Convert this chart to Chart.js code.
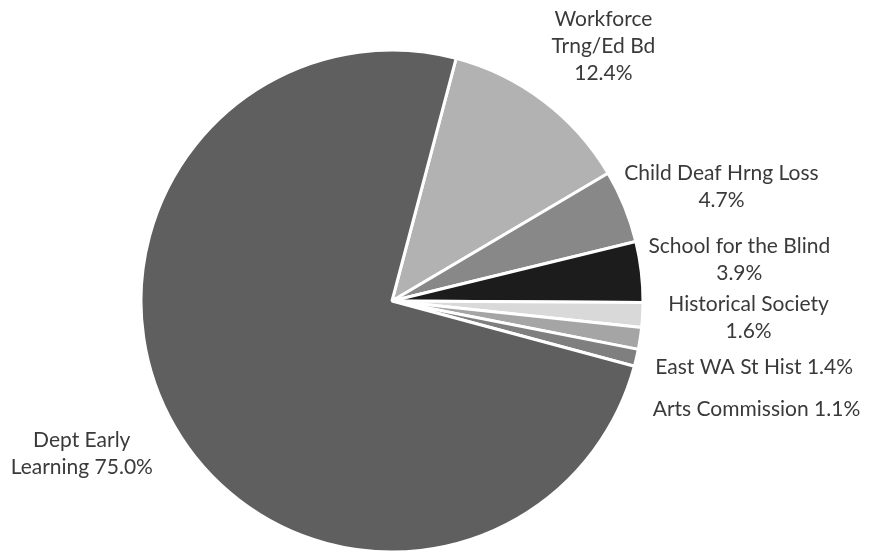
<!DOCTYPE html>
<html>
<head>
<meta charset="utf-8">
<script src="https://cdn.jsdelivr.net/npm/chart.js@4"></script>
<style>
  html, body { margin: 0; padding: 0; background: #ffffff; }
  #wrap { width: 878px; height: 551px; }
</style>
</head>
<body>
<div id="wrap"><canvas id="pie" width="878" height="551"></canvas></div>
<script>
// Agency shares (percent of total)
const agencies = [
  'Workforce Trng/Ed Bd',
  'Child Deaf Hrng Loss',
  'School for the Blind',
  'Historical Society',
  'East WA St Hist',
  'Arts Commission',
  'Dept Early Learning'
];
const shares = [12.4, 4.7, 3.9, 1.6, 1.4, 1.1, 75.0];

// How each label's text is broken into lines
const labelLines = [
  ['Workforce', 'Trng/Ed Bd', '12.4%'],
  ['Child Deaf Hrng Loss', '4.7%'],
  ['School for the Blind', '3.9%'],
  ['Historical Society', '1.6%'],
  ['East WA St Hist 1.4%'],
  ['Arts Commission 1.1%'],
  ['Dept Early', 'Learning 75.0%']
];

const sliceColors = ['#b2b2b2', '#888888', '#1c1c1c', '#d9d9d9', '#a5a5a5', '#7f7f7f', '#5f5f5f'];

// Label placement: offset from the point where each slice's mid-angle meets the rim
const labelNudge = [
  { dx: 60, dy: -55 },
  { dx: 97, dy: -20 },
  { dx: 98, dy: -12 },
  { dx: 106, dy: 3 },
  { dx: 114, dy: 29 },
  { dx: 120, dy: 51 },
  { dx: -93, dy: 27 }
];

const outsideLabels = {
  id: 'outsideLabels',
  afterDatasetsDraw(chart) {
    const ctx = chart.ctx;
    const meta = chart.getDatasetMeta(0);
    ctx.save();
    ctx.font = '21px Lato';
    ctx.fillStyle = '#3a3a3a';
    ctx.textAlign = 'center';
    ctx.textBaseline = 'middle';
    const lineH = 27;
    meta.data.forEach((arc, i) => {
      const p = arc.getProps(['x', 'y', 'startAngle', 'endAngle', 'outerRadius'], true);
      const mid = (p.startAngle + p.endAngle) / 2;
      const ax = p.x + Math.cos(mid) * p.outerRadius;
      const ay = p.y + Math.sin(mid) * p.outerRadius;
      const cx = ax + labelNudge[i].dx;
      const cy = ay + labelNudge[i].dy;
      const lines = labelLines[i];
      const top = cy - (lines.length - 1) * lineH / 2;
      lines.forEach((t, k) => ctx.fillText(t, cx, top + k * lineH));
    });
    ctx.restore();
  }
};

new Chart(document.getElementById('pie'), {
  type: 'pie',
  data: {
    labels: agencies,
    datasets: [{
      data: shares,
      backgroundColor: sliceColors,
      borderColor: '#ffffff',
      borderWidth: 3,
      hoverOffset: 0
    }]
  },
  options: {
    responsive: false,
    animation: false,
    rotation: 14.8,
    radius: 251,
    layout: { padding: { left: 142, right: 236, top: 51, bottom: 0 } },
    plugins: {
      legend: { display: false },
      tooltip: { enabled: false }
    }
  },
  plugins: [outsideLabels]
});
</script>
</body>
</html>
